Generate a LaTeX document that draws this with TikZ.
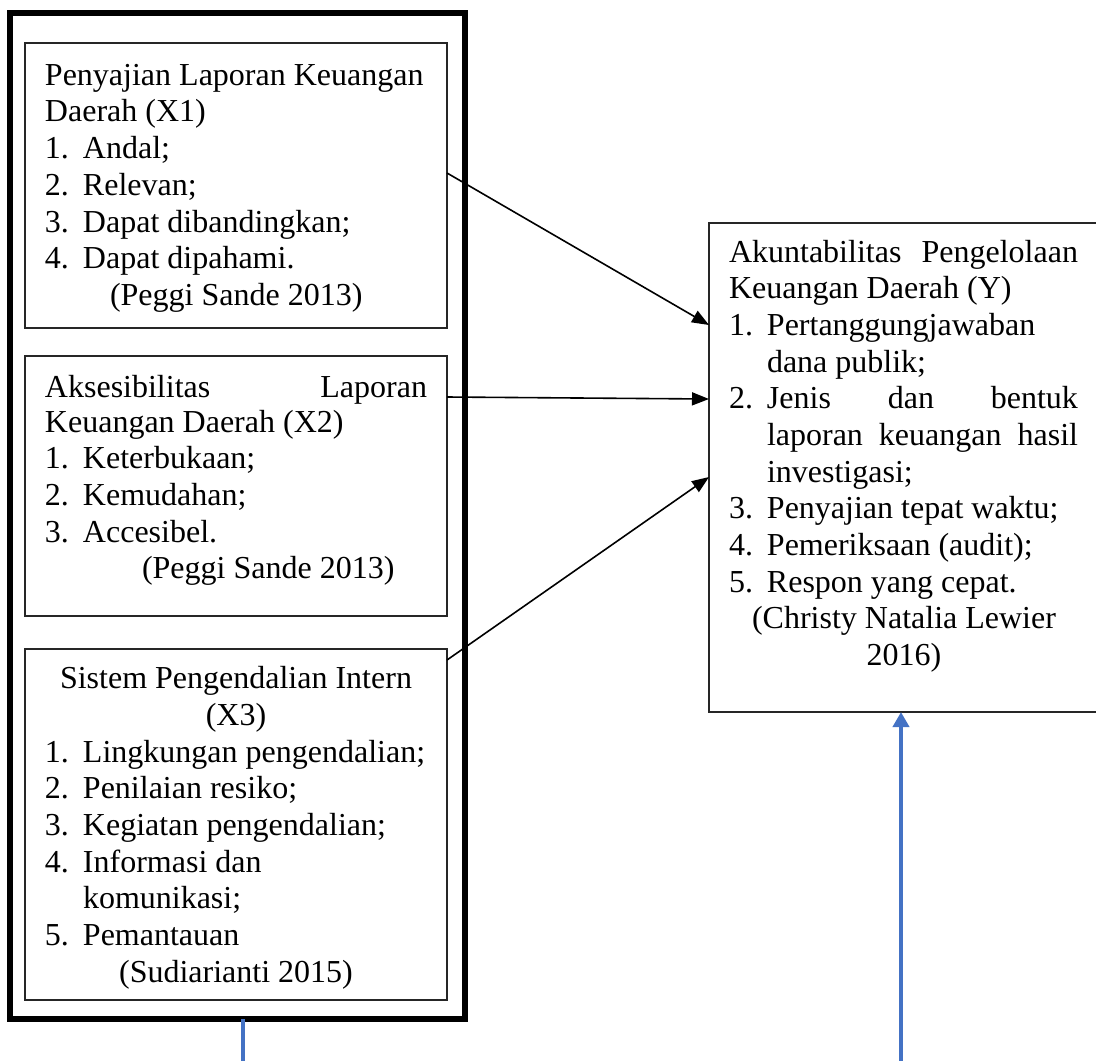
\documentclass[tikz,border=0pt]{standalone}
\usepackage{fontspec}
\setmainfont{Liberation Serif}
\usetikzlibrary{arrows.meta}
\definecolor{wordblue}{HTML}{4472C4}
\begin{document}
\begin{tikzpicture}[x=1pt,y=-1pt,
  boxstyle/.style={draw=black!85, line width=1.3pt, inner sep=0, outer sep=0, anchor=north west},
  outerbox/.style={draw=black, line width=5.5pt, inner sep=0, outer sep=0, anchor=north west},
  txt/.style={font=\fontsize{32}{36.7}\selectfont, inner sep=0, outer sep=0, anchor=base west},
  ctxt/.style={txt, anchor=base},
  conn/.style={line width=1.6pt, -{Triangle[length=17pt,width=13pt]}},
  blueline/.style={draw=wordblue, line width=4pt},
  bluearrow/.style={blueline, -{Triangle[length=15pt,width=16pt]}}
]
\useasboundingbox (0,0) rectangle (1096,1061);

% outer thick frame
\node[outerbox, minimum width=455pt, minimum height=1006pt] (outer) at (10,13) {};

% boxes
\node[boxstyle, minimum width=422pt, minimum height=285pt] (x1) at (25,43) {};
\node[boxstyle, minimum width=422pt, minimum height=260pt] (x2) at (25,356) {};
\node[boxstyle, minimum width=422pt, minimum height=351pt] (x3) at (25,649) {};
\node[boxstyle, minimum width=400pt, minimum height=489pt] (y) at (709,223) {};

% X1 text
\node[txt] (x1a) at (45,85) {Penyajian Laporan Keuangan};
\node[txt] (x1b) at (45,121.7) {Daerah (X1)};
\node[txt] (x1c) at (45,158) {\makebox[38pt][l]{1.}Andal;};
\node[txt] (x1d) at (45,195) {\makebox[38pt][l]{2.}Relevan;};
\node[txt] (x1e) at (45,232) {\makebox[38pt][l]{3.}Dapat dibandingkan;};
\node[txt] (x1f) at (45,268) {\makebox[38pt][l]{4.}Dapat dipahami.};
\node[txt] (x1g) at (110,305) {(Peggi Sande 2013)};

% X2 text
\node[txt] (x2a) at (45,397) {\makebox[382pt][s]{Aksesibilitas\hfill Laporan}};
\node[txt] (x2b) at (45,432) {Keuangan Daerah (X2)};
\node[txt] (x2c) at (45,468) {\makebox[38pt][l]{1.}Keterbukaan;};
\node[txt] (x2d) at (45,505) {\makebox[38pt][l]{2.}Kemudahan;};
\node[txt] (x2e) at (45,542) {\makebox[38pt][l]{3.}Accesibel.};
\node[txt] (x2f) at (142,578) {(Peggi Sande 2013)};

% X3 text
\node[ctxt] (x3a) at (236,688) {Sistem Pengendalian Intern};
\node[ctxt] (x3b) at (236,725) {(X3)};
\node[txt] (x3c) at (45,762) {\makebox[38pt][l]{1.}Lingkungan pengendalian;};
\node[txt] (x3d) at (45,798) {\makebox[38pt][l]{2.}Penilaian resiko;};
\node[txt] (x3e) at (45,835) {\makebox[38pt][l]{3.}Kegiatan pengendalian;};
\node[txt] (x3f) at (45,872) {\makebox[38pt][l]{4.}Informasi dan};
\node[txt] (x3g) at (83,908) {komunikasi;};
\node[txt] (x3h) at (45,945) {\makebox[38pt][l]{5.}Pemantauan};
\node[ctxt] (x3i) at (236,982) {(Sudiarianti 2015)};

% Y text
\node[txt] (ya) at (729,262) {\makebox[349pt][s]{Akuntabilitas\hfill Pengelolaan}};
\node[txt] (yb) at (729,298) {Keuangan Daerah (Y)};
\node[txt] (yc) at (729,335) {\makebox[38pt][l]{1.}Pertanggungjawaban};
\node[txt] (yd) at (767,372) {dana publik;};
\node[txt] (ye) at (729,408) {\makebox[38pt][l]{2.}\makebox[311pt][s]{Jenis\hfill dan\hfill bentuk}};
\node[txt] (yf) at (767,445) {\makebox[311pt][s]{laporan\hfill keuangan\hfill hasil}};
\node[txt] (yg) at (767,482) {investigasi;};
\node[txt] (yh) at (729,518) {\makebox[38pt][l]{3.}Penyajian tepat waktu;};
\node[txt] (yi) at (729,555) {\makebox[38pt][l]{4.}Pemeriksaan (audit);};
\node[txt] (yj) at (729,592) {\makebox[38pt][l]{5.}Respon yang cepat.};
\node[ctxt] (yk) at (904,628) {(Christy Natalia Lewier};
\node[ctxt] (yl) at (904,665) {2016)};

% connectors
\draw[conn] ([yshift=12.5pt]x1.east) -- ([yshift=142.5pt]y.west);
\draw[conn] ([yshift=89pt]x2.east) -- ([yshift=68.5pt]y.west);
\draw[conn] ([yshift=164.5pt]x3.east) -- ([yshift=-9.5pt]y.west);

% blue lines
\coordinate (bl) at (243,1066);
\coordinate (br) at (901,1066);
\draw[blueline] (outer.south -| bl) -- (bl);
\draw[bluearrow] (br) -- (br |- y.south);
\end{tikzpicture}
\end{document}
